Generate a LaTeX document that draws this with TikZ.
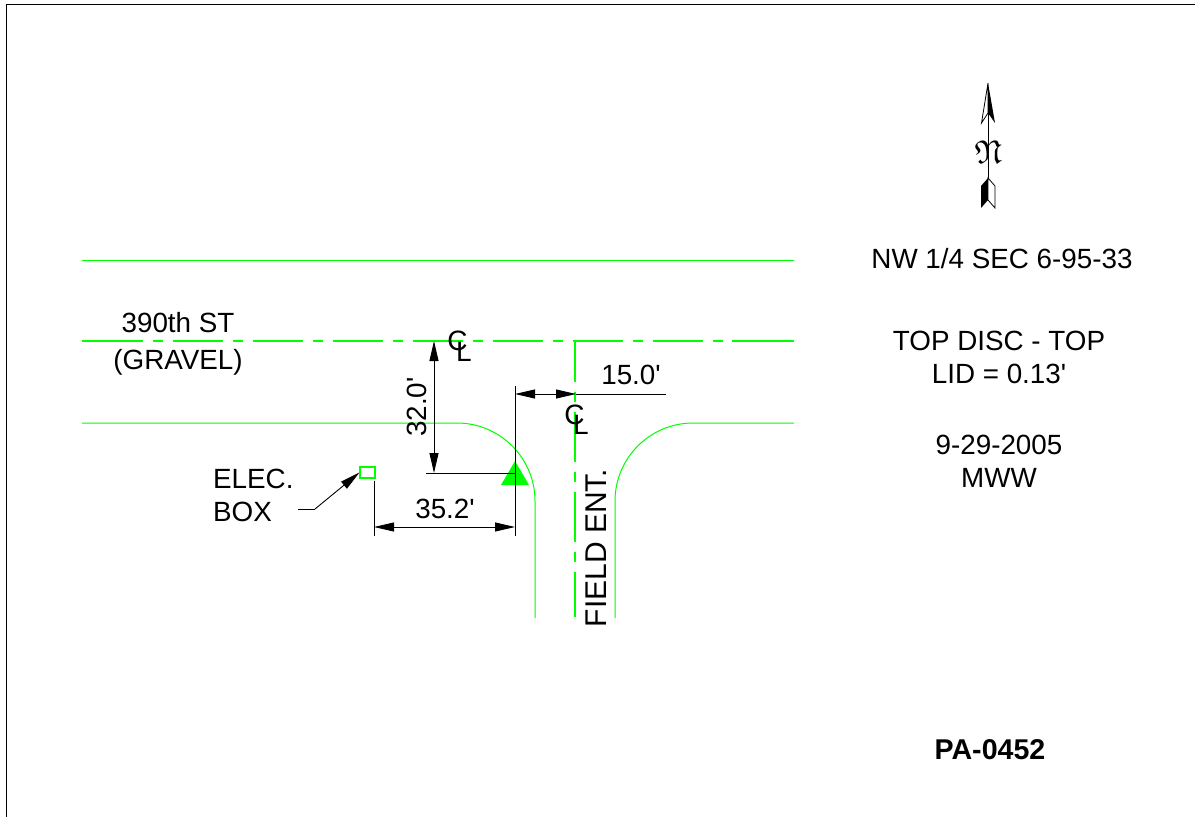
\documentclass[tikz,border=0pt]{standalone}
\usepackage{amssymb}
\usepackage{fontspec}
\setmainfont{Liberation Sans}[Ligatures=TeXOff]
\usetikzlibrary{arrows.meta}
\definecolor{road}{RGB}{0,255,0}
\tikzset{
 x=1pt,y=-1pt,
 roadline/.style={draw=road,line width=1pt},
 centreline/.style={draw=road,line width=1.1pt},
 dimline/.style={draw=black,line width=0.9pt},
 dimtip/.style={-{Triangle[length=20pt,width=9pt]}},
 dimboth/.style={{Triangle[length=20pt,width=9pt]}-{Triangle[length=20pt,width=9pt]}},
 lbl/.style={inner sep=0pt,font=\fontsize{27.8}{33}\selectfont,text=black},
 multi/.style={lbl,align=center},
 clmark/.style={inner sep=0pt,font=\fontsize{28}{28}\selectfont,text=black},
}
\begin{document}
\begin{tikzpicture}
\useasboundingbox (0,0) rectangle (1195,817);
\fill[white] (0,0) rectangle (1195,817);
% sheet border
\draw[black,line width=1pt] (6.5,817) -- (6.5,4) -- (1195,4);
% road edges
\draw[roadline] (82,260) -- (794,260);
\draw[roadline] (82,423) -- (457,423) .. controls (500,423) and (535,458) .. (535,501) -- (535,618);
\draw[roadline] (794,423) -- (693,423) .. controls (650,423) and (615,458) .. (615,501) -- (615,618);
% horizontal centreline
\draw[centreline] (82,341) -- (143,341);
\draw[centreline,dash pattern=on 10pt off 10pt on 50pt off 10pt] (153,341) -- (732,341);
\draw[centreline] (732,341) -- (794,341);
% vertical centreline
\draw[centreline,dash pattern=on 50pt off 10pt on 10pt off 10pt,dash phase=9pt] (575,341) -- (575,617);
% monument
\fill[road] (515,461) -- (529,485) -- (501,485) -- cycle;
% electric box
\node[draw=road,line width=1.1pt,minimum width=15pt,minimum height=11pt,inner sep=0pt] (box) at (367.5,472.5) {};
% dimensions
\coordinate (cltop) at (434,341);
\coordinate (clfoot) at (434,473);
\coordinate (extL) at (426,473);
\coordinate (extR) at (515,473);
\draw[dimline] (extL) -- (extR);
\draw[dimline,dimboth] (cltop) -- (clfoot);
\coordinate (vTop) at (515,386);
\coordinate (vBot) at (515,536);
\draw[dimline] (vTop) -- (vBot);
\coordinate (d15a) at (515,394);
\coordinate (d15b) at (576,394);
\coordinate (d15c) at (666,394);
\draw[dimline] (d15b) -- (d15c);
\draw[dimline,dimboth] (d15a) -- (d15b);
\coordinate (eTop) at (374,481);
\coordinate (eBot) at (374,536);
\draw[dimline] (eTop) -- (eBot);
\coordinate (d35a) at (374,527);
\coordinate (d35b) at (515,527);
\draw[dimline,dimboth] (d35a) -- (d35b);
% leader
\coordinate (lead0) at (298,509);
\coordinate (lead1) at (315,509);
\draw[dimline] (lead0) -- (lead1);
\draw[dimline,dimtip] (lead1) -- (box.west);
% north arrow
\draw[black,line width=0.8pt] (988,113) -- (988,178);
\draw[black,line width=0.8pt,fill=white] (988,83) -- (981.5,123) -- (988,113) -- cycle;
\fill[black] (988,83) -- (995,123) -- (988,113) -- cycle;
\fill[black] (988,178) -- (981,186) -- (981,208) -- (988,200) -- cycle;
\draw[black,line width=0.8pt,fill=white] (988,178) -- (995,186) -- (995,208) -- (988,200) -- cycle;
\node[inner sep=0pt,scale=3.3] (north) at (988,152) {$\mathfrak{N}$};
% labels
\node[multi] (road1) at (178,344) {390th ST\\[4pt](GRAVEL)};
\node[lbl,rotate=90] (d32) at (417,407) {32.0'};
\node[lbl] (d15) at (631,375) {15.0'};
\node[lbl] (d35) at (445,509) {35.2'};
\node[lbl,rotate=90,font=\fontsize{30}{33}\selectfont] (ent) at (596,548) {FIELD ENT.};
\node[lbl,align=left,anchor=west] (elec) at (213,495) {ELEC.\\BOX};
\node[clmark] (c1) at (457.5,341) {C};
\node[clmark] (l1) at (464,352) {L};
\node[clmark] (c2) at (574.5,414.5) {C};
\node[clmark] (l2) at (581,425) {L};
\node[lbl] (sec) at (1002,259) {NW 1/4 SEC 6-95-33};
\node[multi] (top) at (999,357) {TOP DISC - TOP\\LID = 0.13'};
\node[multi] (date) at (999,461.5) {9-29-2005\\MWW};
\node[lbl,font=\fontsize{28.6}{33}\selectfont\bfseries] (id) at (990,750) {PA-0452};
\end{tikzpicture}
\end{document}
